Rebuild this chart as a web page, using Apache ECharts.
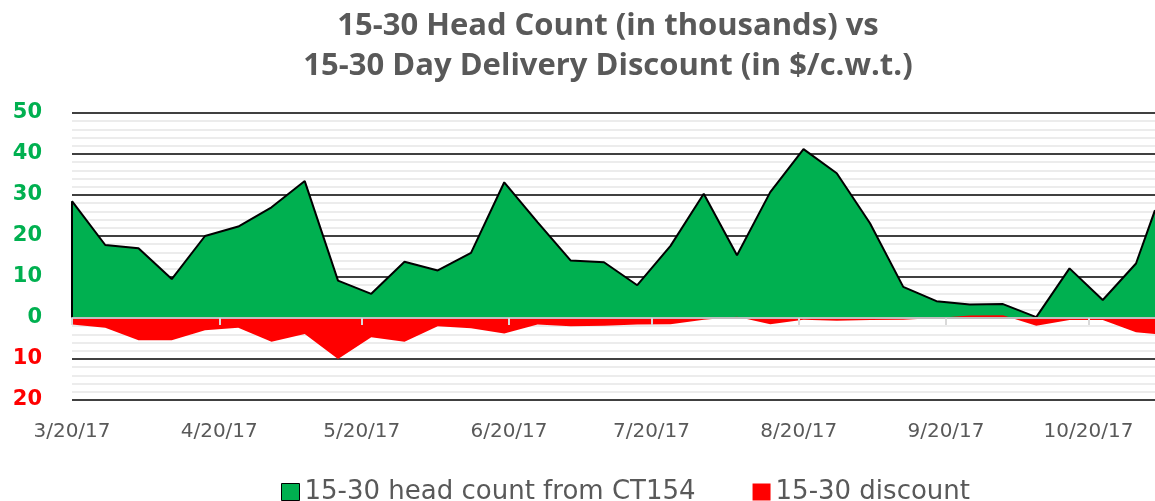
<!DOCTYPE html>
<html>
<head>
<meta charset="utf-8">
<script src="https://cdn.jsdelivr.net/npm/echarts@6/dist/echarts.min.js"></script>
<style>
html, body { margin: 0; padding: 0; background: #fff; }
#chart { width: 1155px; height: 501px; }
</style>
</head>
<body>
<div id="chart"></div>
<script>
// weekly dates
var dates = ['2017-03-20','2017-03-27','2017-04-03','2017-04-10','2017-04-17','2017-04-24',
    '2017-05-01','2017-05-08','2017-05-15','2017-05-22','2017-05-29','2017-06-05','2017-06-12',
    '2017-06-19','2017-06-26','2017-07-03','2017-07-10','2017-07-17','2017-07-24','2017-07-31',
    '2017-08-07','2017-08-14','2017-08-21','2017-08-28','2017-09-04','2017-09-11','2017-09-18',
    '2017-09-25','2017-10-02','2017-10-09','2017-10-16','2017-10-23','2017-10-30','2017-11-03'];
var headCount = [28.5, 17.8, 17.0, 9.5, 20.0, 22.3, 27.0, 33.4, 9.1, 5.9, 13.7, 11.6, 15.9,
    33.1, 23.4, 14.0, 13.6, 8.0, 17.6, 30.3, 15.3, 30.7, 41.2, 35.3, 23.1, 7.6, 4.1,
    3.3, 3.4, 0.2, 12.1, 4.4, 13.3, 26.3];
var discount = [-1.6, -2.4, -5.4, -5.4, -3.0, -2.4, -5.8, -3.9, -10.0, -4.7, -5.8, -2.0, -2.5,
    -3.8, -1.6, -2.0, -1.9, -1.6, -1.5, -0.4, 0.3, -1.5, -0.4, -0.7, -0.5, -0.4, 0.0,
    0.6, 0.7, -1.9, -0.5, -0.5, -3.5, -3.9];
var tickDates = ['2017-03-20','2017-04-20','2017-05-20','2017-06-20','2017-07-20',
    '2017-08-20','2017-09-20','2017-10-20'];

function ts(s) { return new Date(s + 'T00:00:00').getTime(); }
function pairs(vals) { return dates.map(function (d, i) { return [ts(d), vals[i]]; }); }

var xMin = ts('2017-03-20');
var xMax = ts('2017-11-03');
var ticks = tickDates.map(ts);

var myChart = echarts.init(document.getElementById('chart'));
var option = {
    animation: false,
    textStyle: { fontFamily: 'DejaVu Sans' },
    title: {
        text: '15-30 Head Count (in thousands) vs\n15-30 Day Delivery Discount (in $/c.w.t.)',
        left: 603,
        top: 1,
        textAlign: 'center',
        textStyle: { fontSize: 31, fontWeight: 'bold', color: '#595959', lineHeight: 40, fontFamily: 'Open Sans' }
    },
    legend: {
        top: 474,
        left: 276,
        itemWidth: 18,
        itemHeight: 17,
        itemGap: 57,
        textStyle: { fontSize: 26, color: '#595959', fontFamily: 'DejaVu Sans' },
        data: [
            { name: '15-30 head count from CT154', icon: 'rect', itemStyle: { color: '#00b050', borderColor: '#000', borderWidth: 1 } },
            { name: '15-30 discount', icon: 'rect', itemStyle: { color: '#ff0000', borderWidth: 0 } }
        ]
    },
    grid: { left: 72, right: 0, top: 113, bottom: 101 },
    xAxis: [{
        type: 'value',
        min: xMin,
        max: xMax,
        axisLine: { show: false, onZero: false },
        axisTick: { show: false },
        splitLine: { show: false },
        axisLabel: {
            customValues: ticks,
            margin: 22,
            fontSize: 20,
            color: '#595959',
            formatter: function (v) {
                var d = new Date(v);
                return (d.getMonth() + 1) + '/' + d.getDate() + '/' + String(d.getFullYear()).slice(2);
            }
        }
    }, {
        type: 'value',
        min: xMin,
        max: xMax,
        position: 'bottom',
        z: 10,
        axisLine: { show: true, onZero: true, lineStyle: { color: '#bfbfbf', width: 2 } },
        axisTick: { show: true, customValues: ticks, length: 7, lineStyle: { color: '#d9d9d9', width: 2 } },
        axisLabel: { show: false },
        splitLine: { show: false }
    }],
    yAxis: {
        type: 'value',
        min: -20,
        max: 50,
        interval: 10,
        axisLine: { show: false },
        axisTick: { show: false },
        axisLabel: {
            margin: 30,
            fontSize: 21,
            fontWeight: 'bold',
            fontFamily: 'DejaVu Sans',
            formatter: function (v) { return Math.abs(v); },
            color: function (v) { return Number(v) < 0 ? '#ff0000' : '#00b050'; }
        },
        splitLine: { show: true, lineStyle: { color: '#000', width: 1.5 } },
        minorTick: { show: false, splitNumber: 5 },
        minorSplitLine: { show: true, lineStyle: { color: '#ececec', width: 2 } }
    },
    series: [{
        name: '15-30 head count from CT154',
        type: 'line',
        xAxisIndex: 0,
        data: pairs(headCount),
        showSymbol: false,
        symbol: 'none',
        lineStyle: { color: '#000', width: 2 },
        itemStyle: { color: '#00b050' },
        areaStyle: { color: '#00b050', opacity: 1, origin: 0 },
        markLine: {
            silent: true,
            symbol: 'none',
            label: { show: false },
            lineStyle: { color: '#000', width: 2, type: 'solid' },
            data: [[{ coord: [ts(dates[0]), 0] }, { coord: [ts(dates[0]), headCount[0]] }]]
        }
    }, {
        name: '15-30 discount',
        type: 'line',
        xAxisIndex: 0,
        data: pairs(discount),
        showSymbol: false,
        symbol: 'none',
        lineStyle: { width: 0, opacity: 0 },
        itemStyle: { color: '#ff0000' },
        areaStyle: { color: '#ff0000', opacity: 1, origin: 0 }
    }]
};
myChart.setOption(option);
</script>
</body>
</html>
